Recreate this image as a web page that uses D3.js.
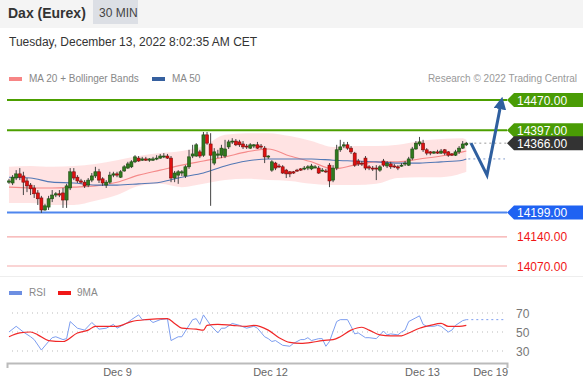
<!DOCTYPE html>
<html>
<head>
<meta charset="utf-8">
<script src="https://cdn.jsdelivr.net/npm/d3@7"></script>
<style>
body { margin: 0; background: #fff; font-family: "Liberation Sans", Arial, sans-serif; }
</style>
</head>
<body>
<div id="chart"></div>
<script>
// 30 min candles, index 0 = first visible bar
var opens = [14272,14270,14282,14292,14287,14275,14265,14258,14246,14234,
  14205,14212,14232,14241,14244,14246,14229,14258,14297,14284,
  14275,14272,14265,14277,14287,14297,14280,14265,14272,14289,
  14292,14284,14299,14306,14309,14321,14330,14325,14328,14325,
  14325,14328,14330,14333,14335,14330,14282,14289,14294,14287,
  14309,14335,14335,14345,14337,14386,14364,14318,14337,14337,
  14335,14357,14369,14371,14369,14364,14359,14354,14359,14362,
  14359,14354,14333,14301,14318,14311,14309,14301,14297,14297,
  14301,14304,14304,14306,14304,14306,14306,14299,14299,14313,
  14277,14306,14350,14359,14362,14354,14342,14323,14318,14330,
  14309,14306,14306,14301,14323,14311,14316,14311,14309,14311,
  14316,14313,14330,14352,14364,14366,14350,14345,14342,14345,
  14342,14350,14345,14340,14337,14345,14354,14362];
var closes = [14275,14284,14292,14284,14272,14263,14256,14244,14232,14205,
  14215,14232,14241,14244,14241,14229,14263,14297,14282,14275,
  14272,14263,14277,14287,14297,14277,14270,14272,14289,14292,
  14289,14297,14309,14316,14321,14333,14323,14328,14325,14328,
  14328,14330,14335,14335,14330,14282,14294,14297,14297,14309,
  14333,14340,14362,14335,14386,14366,14337,14345,14340,14354,
  14352,14369,14371,14362,14362,14357,14357,14362,14362,14354,
  14357,14333,14335,14321,14306,14309,14294,14292,14292,14294,
  14299,14301,14306,14309,14311,14309,14294,14301,14297,14275,
  14306,14350,14357,14362,14354,14345,14313,14316,14316,14306,
  14306,14304,14304,14309,14313,14318,14309,14309,14306,14313,
  14318,14328,14352,14366,14369,14350,14342,14342,14345,14342,
  14347,14342,14337,14337,14345,14354,14364,14366];
var highs = [14280,14289,14301,14306,14297,14282,14270,14265,14253,14239,
  14220,14239,14253,14248,14253,14258,14268,14306,14306,14289,
  14280,14277,14282,14294,14309,14304,14284,14277,14297,14297,
  14297,14301,14313,14321,14325,14337,14335,14333,14333,14330,
  14333,14337,14340,14342,14340,14335,14299,14301,14301,14313,
  14350,14362,14366,14350,14393,14393,14390,14354,14350,14362,
  14374,14374,14378,14376,14374,14371,14364,14366,14364,14369,
  14364,14359,14337,14325,14321,14316,14313,14304,14299,14299,
  14304,14306,14311,14313,14316,14313,14311,14306,14304,14318,
  14313,14362,14374,14369,14369,14359,14345,14328,14323,14335,
  14313,14311,14313,14313,14328,14323,14321,14316,14313,14318,
  14323,14333,14357,14371,14381,14374,14354,14347,14347,14350,
  14352,14352,14347,14342,14350,14359,14371,14369];
var lows = [14268,14265,14277,14277,14241,14248,14241,14234,14217,14198,
  14203,14205,14224,14236,14236,14210,14210,14253,14277,14270,
  14268,14258,14260,14272,14282,14270,14263,14258,14268,14284,
  14284,14282,14297,14304,14306,14318,14321,14323,14323,14321,
  14323,14325,14328,14330,14328,14272,14272,14268,14287,14282,
  14304,14330,14333,14330,14333,14362,14215,14313,14330,14330,
  14330,14352,14364,14359,14357,14352,14352,14352,14354,14352,
  14352,14318,14328,14297,14301,14306,14292,14282,14284,14292,
  14297,14299,14301,14301,14301,14306,14292,14297,14294,14260,
  14272,14301,14345,14354,14350,14340,14309,14311,14311,14301,
  14301,14299,14277,14297,14309,14306,14304,14306,14301,14309,
  14311,14311,14325,14350,14359,14345,14337,14337,14340,14340,
  14340,14337,14333,14335,14335,14340,14352,14359];

// indicator readings (bar index -> value)
var indIdx = [0,6,12,18,24,30,36,42,48,54,60,66,72,78,84,90,96,102,108,114,120,126,127];
var ma20 = [14260,14258,14258,14260,14263,14272,14289,14301,14313,14323,14333,14345,14352,14335,14321,14304,14313,14321,14321,14328,14335,14345,14347];
var ma50 = [14284,14282,14272,14270,14265,14265,14268,14272,14284,14294,14311,14323,14328,14328,14328,14325,14323,14321,14318,14318,14321,14325,14328];
var bbUpper = [14309,14311,14309,14311,14316,14325,14335,14342,14347,14359,14386,14390,14390,14383,14371,14357,14359,14359,14362,14371,14376,14378,14374];
var bbLower = [14222,14222,14217,14217,14227,14241,14263,14268,14260,14268,14277,14280,14277,14275,14268,14265,14265,14268,14282,14284,14284,14294,14297];

// key levels
var levelPrices = [14470, 14397, 14366, 14199, 14140, 14070];
var levelKinds = ["resistance", "resistance", "last", "pivot", "support", "support"];

// forecast path
var fcIdx = [128.3, 132.75, 136.6];
var fcPrice = [14366, 14289, 14460];

// RSI
var rsiIdx = [0,2,4,6,7,9,11,12,13,15,16,17,19,21,23,25,27,29,30,33,34,36,37,39,40,42,44,45,47,48,51,52,53,54,56,58,59,60,62,64,66,68,69,71,72,73,74,76,78,79,81,82,83,84,86,87,88,89,91,92,94,95,96,97,99,100,102,104,105,106,108,109,110,111,113,114,115,116,118,119,120,122,123,124,126,127];
var rsiVal = [50,56,50,45,42,31,40,44,45,42,43,61,54,52,60,53,54,58,54,60,63,68,63,63,60,63,64,41,45,45,63,64,58,68,57,49,54,54,59,57,54,56,54,45,43,40,41,36,35,38,42,42,44,41,43,43,35,40,61,63,63,56,48,49,44,44,43,51,47,48,47,50,52,61,65,67,58,56,56,57,56,50,52,57,62,63];
var rsiMaIdx = [0,3,6,8,11,15,19,22,24,27,30,34,38,44,46,48,52,54,55,58,62,66,68,72,75,78,81,84,87,90,92,95,98,100,103,106,109,111,114,117,120,122,125,127];
var rsiMa = [45,49,50,47,41,40,49,52,56,56,56,61,63,64,59,54,53,52,57,58,57,56,57,52,44,39,38,39,41,42,45,52,55,52,47,46,46,49,54,57,59,56,56,57];
var rsiTicks = [70, 50, 30];

// time axis
var tickIdx = [30, 72.5, 114.7, 133.6];
var tickLabels = ["Dec 9", "Dec 12", "Dec 13", "Dec 19"];

var W = 583, H = 379;
var svg = d3.select("#chart").append("svg")
  .attr("width", W).attr("height", H)
  .style("display", "block");

var x = d3.scaleLinear().domain([-0.55, 138.3]).range([7, 507]);
var y = d3.scaleLinear().domain([14070, 14470]).range([266, 100]);
var yr = d3.scaleLinear().domain([30, 70]).range([351, 313]);

// header
svg.append("rect").attr("x", 0).attr("y", 0).attr("width", W).attr("height", 28).attr("fill", "#f4f4f4");
svg.append("rect").attr("x", 93).attr("y", 0).attr("width", 45).attr("height", 24).attr("fill", "#dcdfe5");
svg.append("text").attr("x", 8).attr("y", 18).attr("font-size", 14).attr("font-weight", "bold").attr("fill", "#333").text("Dax (Eurex)");
svg.append("text").attr("x", 99).attr("y", 17).attr("font-size", 12).attr("fill", "#444").text("30 MIN");
svg.append("text").attr("x", 9).attr("y", 46).attr("font-size", 12).attr("fill", "#333").text("Tuesday, December 13, 2022 8:02:35 AM CET");

// legend
svg.append("rect").attr("x", 9).attr("y", 77).attr("width", 13).attr("height", 4).attr("fill", "#f78585");
svg.append("text").attr("x", 29).attr("y", 82).attr("font-size", 10).attr("fill", "#888").text("MA 20 + Bollinger Bands");
svg.append("rect").attr("x", 152).attr("y", 77).attr("width", 13).attr("height", 4).attr("fill", "#36609f");
svg.append("text").attr("x", 172).attr("y", 82).attr("font-size", 10).attr("fill", "#888").text("MA 50");
svg.append("text").attr("x", 577).attr("y", 82).attr("font-size", 10).attr("text-anchor", "end").attr("fill", "#999").text("Research \u00a9 2022 Trading Central");

// level lines
var lineStyle = {
  resistance: { stroke: "#4c9f00", width: 2 },
  last: { stroke: "none", width: 0 },
  pivot: { stroke: "#4f86ee", width: 2 },
  support: { stroke: "#f6a9a9", width: 1.2 }
};
levelPrices.forEach(function (p, k) {
  var s = lineStyle[levelKinds[k]];
  if (s.stroke === "none") return;
  svg.append("line")
    .attr("x1", 7).attr("x2", 507)
    .attr("y1", y(p)).attr("y2", y(p))
    .attr("stroke", s.stroke).attr("stroke-width", s.width);
});

// bollinger band
var band = indIdx.map(function (d, k) { return { i: d, lo: bbLower[k], hi: bbUpper[k], m20: ma20[k], m50: ma50[k] }; });
svg.append("path").datum(band)
  .attr("fill", "#ffdede").attr("opacity", 0.85)
  .attr("d", d3.area().curve(d3.curveMonotoneX)
    .x(function (d) { return x(d.i); })
    .y0(function (d) { return y(d.lo); })
    .y1(function (d) { return y(d.hi); }));

svg.append("path").datum(band)
  .attr("fill", "none").attr("stroke", "#f58a8a").attr("stroke-width", 1.1)
  .attr("d", d3.line().curve(d3.curveMonotoneX).x(function (d) { return x(d.i); }).y(function (d) { return y(d.m20); }));
svg.append("path").datum(band)
  .attr("fill", "none").attr("stroke", "#5378b5").attr("stroke-width", 1.1)
  .attr("d", d3.line().curve(d3.curveMonotoneX).x(function (d) { return x(d.i); }).y(function (d) { return y(d.m50); }));

// candles
var candles = opens.map(function (o, i) { return { i: i, o: o, c: closes[i], h: highs[i], l: lows[i] }; });
var cg = svg.append("g");
cg.selectAll("line.wick").data(candles).enter().append("line")
  .attr("class", "wick")
  .attr("x1", function (d) { return x(d.i); }).attr("x2", function (d) { return x(d.i); })
  .attr("y1", function (d) { return y(d.h); }).attr("y2", function (d) { return y(d.l); })
  .attr("stroke", "#444").attr("stroke-width", 1);
cg.selectAll("rect.body").data(candles).enter().append("rect")
  .attr("class", "body")
  .attr("x", function (d) { return x(d.i) - 1.5; })
  .attr("width", 3)
  .attr("y", function (d) { return y(Math.max(d.o, d.c)); })
  .attr("height", function (d) { return Math.max(1, Math.abs(y(d.o) - y(d.c))); })
  .attr("fill", function (d) { return d.c >= d.o ? "#2f7a1e" : "#e01010"; })
  .attr("stroke", function (d) { return d.c >= d.o ? "#1d4a12" : "#7a0c0c"; })
  .attr("stroke-width", 0.6);

// dotted extensions
var lastI = opens.length - 1;
svg.append("line")
  .attr("x1", x(lastI) + 3).attr("x2", 507)
  .attr("y1", y(levelPrices[2])).attr("y2", y(levelPrices[2]))
  .attr("stroke", "#999").attr("stroke-width", 1).attr("stroke-dasharray", "2,3");
svg.append("line")
  .attr("x1", x(lastI) + 2).attr("x2", 505)
  .attr("y1", y(ma50[ma50.length - 1])).attr("y2", y(ma50[ma50.length - 1]))
  .attr("stroke", "#7f9acb").attr("stroke-width", 1).attr("stroke-dasharray", "2,3");

// forecast arrow
var defs = svg.append("defs");
defs.append("marker").attr("id", "ah")
  .attr("viewBox", "0 0 10 10").attr("refX", 4).attr("refY", 5)
  .attr("markerWidth", 4.2).attr("markerHeight", 4.2).attr("orient", "auto")
  .append("path").attr("d", "M0,0 L10,5 L0,10 z").attr("fill", "#2f5f9f");
var fc = fcIdx.map(function (d, k) { return [x(d), y(fcPrice[k])]; });
svg.append("path").datum(fc)
  .attr("fill", "none").attr("stroke", "#2f5f9f").attr("stroke-width", 3)
  .attr("stroke-linejoin", "miter")
  .attr("marker-end", "url(#ah)")
  .attr("d", d3.line());

// level labels
var labelStyle = {
  resistance: { box: "#4a9c05", text: "#fff" },
  last: { box: "#333333", text: "#fff" },
  pivot: { box: "#1f62f2", text: "#fff" },
  support: { box: null, text: "#f01515" }
};
levelPrices.forEach(function (p, k) {
  var s = labelStyle[levelKinds[k]];
  var cy = y(p);
  if (s.box) {
    svg.append("path")
      .attr("d", "M507," + cy + "L514," + (cy - 7) + "L583," + (cy - 7) + "L583," + (cy + 7) + "L514," + (cy + 7) + "Z")
      .attr("fill", s.box);
  }
  svg.append("text").attr("x", 517).attr("y", cy + 4.5)
    .attr("font-size", 12).attr("fill", s.text).text(d3.format(".2f")(p));
});

// panel separator
svg.append("line").attr("x1", 0).attr("x2", W).attr("y1", 276.5).attr("y2", 276.5)
  .attr("stroke", "#eeeeee").attr("stroke-width", 1);

// RSI legend
svg.append("rect").attr("x", 9).attr("y", 291).attr("width", 13).attr("height", 4).attr("fill", "#6d8fe2");
svg.append("text").attr("x", 29).attr("y", 296).attr("font-size", 10).attr("fill", "#888").text("RSI");
svg.append("rect").attr("x", 58).attr("y", 291).attr("width", 13).attr("height", 4).attr("fill", "#f01818");
svg.append("text").attr("x", 77).attr("y", 296).attr("font-size", 10).attr("fill", "#888").text("9MA");

// RSI grid + labels
rsiTicks.forEach(function (t) {
  svg.append("line").attr("x1", 12).attr("x2", 505)
    .attr("y1", yr(t)).attr("y2", yr(t))
    .attr("stroke", "#bbb").attr("stroke-width", 1).attr("stroke-dasharray", "1,4");
  svg.append("text").attr("x", 516).attr("y", yr(t) + 4.5)
    .attr("font-size", 12).attr("fill", "#777").text(t);
});

var rsiData = rsiIdx.map(function (d, k) { return { i: d, v: rsiVal[k] }; });
var rsiMaData = rsiMaIdx.map(function (d, k) { return { i: d, v: rsiMa[k] }; });
svg.append("path").datum(rsiData)
  .attr("fill", "none").attr("stroke", "#7d9ef0").attr("stroke-width", 1)
  .attr("d", d3.line().x(function (d) { return x(d.i); }).y(function (d) { return yr(d.v); }));
svg.append("path").datum(rsiMaData)
  .attr("fill", "none").attr("stroke", "#f02828").attr("stroke-width", 1.2)
  .attr("d", d3.line().curve(d3.curveMonotoneX).x(function (d) { return x(d.i); }).y(function (d) { return yr(d.v); }));
svg.append("line")
  .attr("x1", x(lastI)).attr("x2", 505)
  .attr("y1", yr(rsiVal[rsiVal.length - 1])).attr("y2", yr(rsiVal[rsiVal.length - 1]))
  .attr("stroke", "#7d9ef0").attr("stroke-width", 1).attr("stroke-dasharray", "2,3");

// time axis
var xAxis = svg.append("g")
  .attr("transform", "translate(0,363)")
  .call(d3.axisBottom(x)
    .tickValues(tickIdx)
    .tickFormat(function (d, i) { return tickLabels[i]; })
    .tickSizeInner(0).tickSizeOuter(5).tickPadding(5));
xAxis.select(".domain").attr("stroke", "#bbb").attr("stroke-width", 2);
xAxis.selectAll("text").attr("font-size", 11).attr("fill", "#666")
  .attr("font-family", "Liberation Sans, Arial, sans-serif");
</script>
</body>
</html>
